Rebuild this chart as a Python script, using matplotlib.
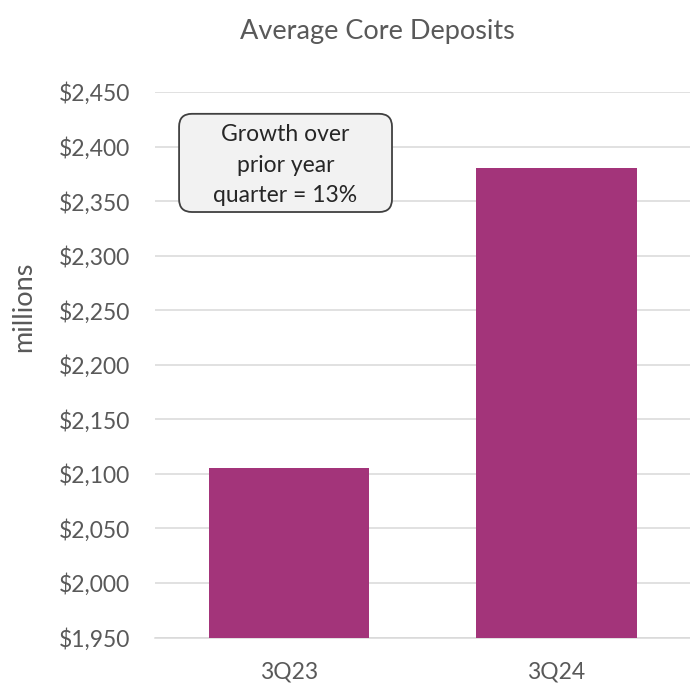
import matplotlib.pyplot as plt
from matplotlib.patches import FancyBboxPatch
from matplotlib.ticker import FuncFormatter

plt.rcParams['font.family'] = ['Lato', 'DejaVu Sans']

quarters = ['3Q23', '3Q24']
deposits = [2105, 2380]
growth_pct = 13

bar_color = '#A3347A'
text_color = '#595959'
grid_color = '#D9D9D9'

fig = plt.figure(figsize=(6.9, 6.83), dpi=100)
ax = fig.add_axes([155 / 690, 1 - 637.5 / 683, 535 / 690, (637.5 - 92) / 683])

x = range(len(quarters))
ax.bar(x, deposits, width=0.6, color=bar_color, zorder=3)

ax.set_xlim(-0.5, len(quarters) - 0.5)
ax.set_ylim(1950, 2450)
ax.set_yticks(range(1950, 2451, 50))
ax.yaxis.set_major_formatter(FuncFormatter(lambda v, _: f'${v:,.0f}'))
ax.set_xticks(list(x))
ax.set_xticklabels(quarters)

ax.grid(axis='y', color=grid_color, linewidth=1.1, zorder=0)
ax.tick_params(axis='both', length=0, labelsize=16.5, colors=text_color)
ax.tick_params(axis='y', pad=18)
ax.tick_params(axis='x', pad=17)
for side in ['top', 'right', 'left']:
    ax.spines[side].set_visible(False)
ax.spines['bottom'].set_color(grid_color)
ax.spines['bottom'].set_linewidth(1.1)

fig.text(24 / 690, 1 - 307 / 683, 'millions', rotation=90, ha='center', va='center',
         fontsize=19.5, color=text_color)
fig.text(377 / 690, 1 - 32 / 683, 'Average Core Deposits', ha='center', va='center',
         fontsize=19.5, color=text_color)

# callout box, rounded corners corrected for the data aspect
x_px = ax.bbox.width / 2.0
y_px = ax.bbox.height / 500.0
box = FancyBboxPatch((-0.41, 2340), 0.796, 90,
                     boxstyle='round,pad=0,rounding_size=0.048',
                     mutation_aspect=x_px / y_px,
                     facecolor='#F2F2F2', edgecolor='#404040', linewidth=1.3, zorder=5)
ax.add_patch(box)
ax.text(-0.012, 2383, f'Growth over\nprior year\nquarter = {growth_pct}%',
        ha='center', va='center', fontsize=16.5, color='#262626', linespacing=1.57,
        zorder=6)

fig.savefig('out.png', dpi=100)
